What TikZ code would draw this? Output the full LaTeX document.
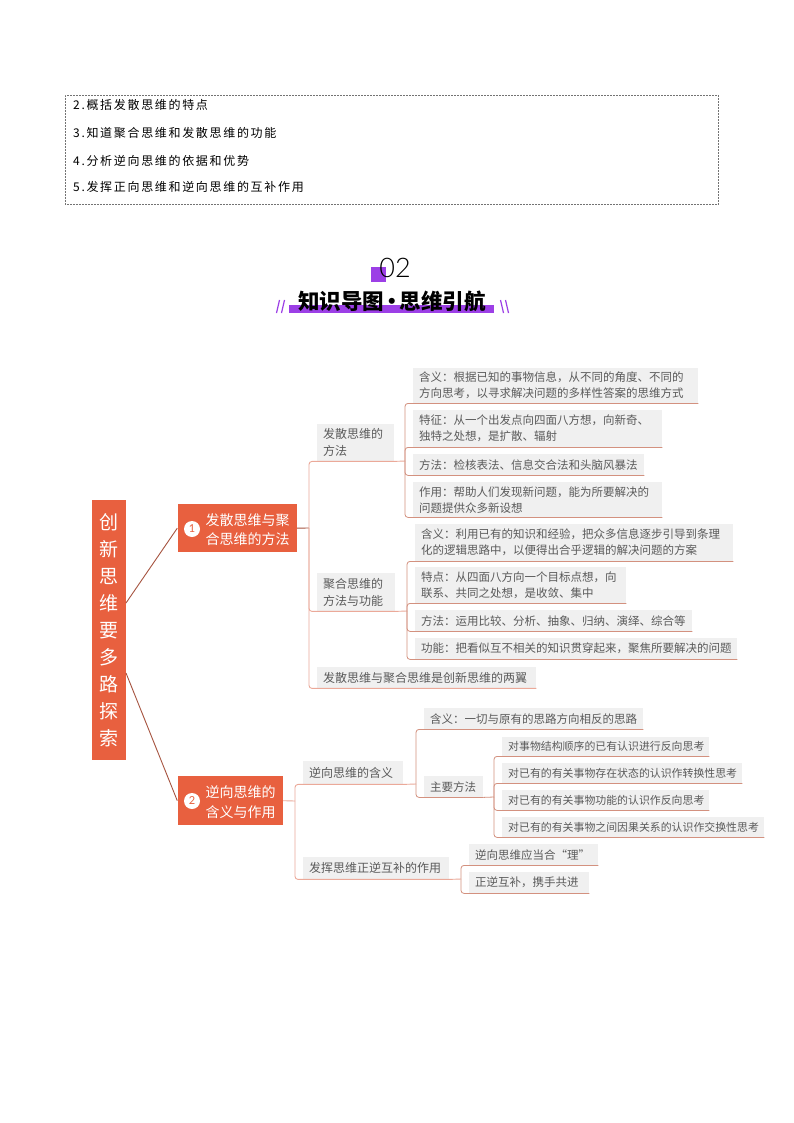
\documentclass[tikz,border=0pt]{standalone}
\usepackage{fontspec}
\setmainfont{Noto Sans CJK SC}
\newfontfamily\topfont[LetterSpace=14]{Noto Sans CJK SC}
\newfontfamily\numfont{Lato}
\newfontfamily\thinnum{Lato Light}
\usetikzlibrary{calc}
\definecolor{orangebox}{HTML}{E8603F}
\definecolor{leafgray}{HTML}{F0F0F0}
\definecolor{leaftext}{HTML}{5A5A5A}
\definecolor{linkdark}{HTML}{A65440}
\definecolor{linkmid}{HTML}{D3917F}
\definecolor{linklight}{HTML}{EBA999}
\definecolor{purplemark}{HTML}{9C3FE6}
\tikzset{
  x=1pt,y=-1pt,
  leaf/.code 2 args={\pgfmathsetmacro\tw{#1-12}\tikzset{rectangle,fill=leafgray,text=leaftext,
    anchor=north west,inner xsep=6pt,inner ysep=0pt,minimum width=#1pt,minimum height=#2pt,
    text width=\tw pt,align=left}},
  leafa/.style={font=\fontsize{11.5}{16}\selectfont},
  leafb/.style={font=\fontsize{12}{17}\selectfont},
  leafc/.style={font=\fontsize{10.9}{15}\selectfont},
  orangenode/.code 2 args={\tikzset{rectangle,fill=orangebox,text=white,anchor=north west,inner sep=0pt,
    minimum width=#1pt,minimum height=#2pt}},
  numdot/.style={circle,fill=white,text=orangebox,inner sep=0pt,minimum size=16pt,font=\numfont\fontsize{11}{11}\selectfont},
  toptext/.style={anchor=west,inner sep=0pt,text=black,font=\topfont\fontsize{12}{12}\selectfont},
  rootlink/.style={draw=linkdark,line width=0.9pt},
  trunklink/.style={draw=linklight,line width=0.9pt,rounded corners=3pt},
  branchlink/.style={draw=linkmid,line width=0.8pt,rounded corners=3pt},
}
\begin{document}
\begin{tikzpicture}
\useasboundingbox[fill=white] (0,0) rectangle (794,1123);

% top dotted frame
\node[draw=black!55,densely dotted,line width=0.5pt,anchor=north west,inner sep=0pt,minimum width=653pt,minimum height=109pt] (frame) at (65,95) {};
\node[toptext] (t2) at (73,104.5) {2.概括发散思维的特点};
\node[toptext] (t3) at (73,132.5) {3.知道聚合思维和发散思维的功能};
\node[toptext] (t4) at (73,161) {4.分析逆向思维的依据和优势};
\node[toptext] (t5) at (73,186.5) {5.发挥正向思维和逆向思维的互补作用};

% heading
\fill[purplemark] (371,267) rectangle (386,282);
\node[inner sep=0pt,text=black,font=\thinnum\fontsize{27}{27}\selectfont] (num) at (395,268) {02};
\fill[purplemark] (289,305) rectangle (494,313);
\node[inner sep=0pt,text=black,font=\bfseries\fontsize{21.5}{21.5}\selectfont] (title) at (392,301) {知识导图\kern-3pt•\kern-3pt思维引航};
\draw[purplemark,line width=1.2pt] (279.5,300) -- (276.5,313) (284.5,300) -- (281.5,313);
\draw[purplemark,line width=1.2pt] (500.5,300) -- (503.5,313) (505.5,300) -- (508.5,313);

% root and main boxes
\node[orangenode={34}{260},align=center,font=\fontsize{19}{26.9}\selectfont] (root) at (92,500)
  {创\\新\\思\\维\\要\\多\\路\\探\\索};
\node[orangenode={119.5}{48.5}] (m1) at (177.3,503.7) {};
\node[anchor=west,inner sep=0pt,align=left,text=white,font=\fontsize{14}{19}\selectfont] (m1t) at (205.5,529.5) {发散思维与聚\\合思维的方法};
\node[numdot] (n1) at (192,529) {1};
\node[orangenode={105.4}{49}] (m2) at (177.3,776) {};
\node[anchor=west,inner sep=0pt,align=left,text=white,font=\fontsize{14}{20}\selectfont] (m2t) at (205.5,802) {逆向思维的\\含义与作用};
\node[numdot] (n2) at (192,801) {2};

% first branch
\node[leaf={77}{37},leafb] (p1) at (317,424) {发散思维的\\方法};
\node[leaf={285}{35},leafa] (a1) at (413,368) {含义：根据已知的事物信息，从不同的角度、不同的\\方向思考，以寻求解决问题的多样性答案的思维方式};
\node[leaf={249}{37},leafa] (a2) at (413,410) {特征：从一个出发点向四面八方想，向新奇、\\独特之处想，是扩散、辐射};
\node[leaf={231}{21},leafa] (a3) at (413,454) {方法：检核表法、信息交合法和头脑风暴法};
\node[leaf={249}{35},leafa] (a4) at (413,482) {作用：帮助人们发现新问题，能为所要解决的\\问题提供众多新设想};

\node[leaf={78}{38},leafb] (p2) at (317,573) {聚合思维的\\方法与功能};
\node[leaf={318}{37},leafa] (b1) at (415,524) {含义：利用已有的知识和经验，把众多信息逐步引导到条理\\化的逻辑思路中，以便得出合乎逻辑的解决问题的方案};
\node[leaf={211}{36},leafa] (b2) at (415,567) {特点：从四面八方向一个目标点想，向\\联系、共同之处想，是收敛、集中};
\node[leaf={277}{21},leafa] (b3) at (415,610) {方法：运用比较、分析、抽象、归纳、演绎、综合等};
\node[leaf={322}{21},leafa] (b4) at (415,638) {功能：把看似互不相关的知识贯穿起来，聚焦所要解决的问题};
\node[leaf={219}{21},leafb] (p3) at (317,667) {发散思维与聚合思维是创新思维的两翼};

% second branch
\node[leaf={100}{23},leafb] (c1) at (303,761) {逆向思维的含义};
\node[leaf={146}{22},leafb] (c2) at (303,857) {发挥思维正逆互补的作用};
\node[leaf={219}{21},leafa] (d1) at (424,708) {含义：一切与原有的思路方向相反的思路};
\node[leaf={59}{21},leafa] (d2) at (424,776) {主要方法};
\node[leaf={207}{19},leafc] (e1) at (502,737) {对事物结构顺序的已有认识进行反向思考};
\node[leaf={240}{20},leafc] (e2) at (502,763) {对已有的有关事物存在状态的认识作转换性思考};
\node[leaf={207}{20},leafc] (e3) at (502,790) {对已有的有关事物功能的认识作反向思考};
\node[leaf={262}{20},leafc] (e4) at (502,817) {对已有的有关事物之间因果关系的认识作交换性思考};
\node[leaf={129}{21},leafa] (f1) at (469,844) {逆向思维应当合“理”};
\node[leaf={120}{21},leafa] (f2) at (469,872) {正逆互补，携手共进};

% junctions
\coordinate (r1) at (126,603);
\coordinate (r2) at (126,673);
\coordinate (t1) at (309,528);
\coordinate (t2j) at (295,801);
\coordinate (ja) at (405,461);
\coordinate (jb) at (407,611);
\coordinate (jd) at (416,784);
\coordinate (je) at (494,797);
\coordinate (jf) at (461,879);

% connectors
\draw[rootlink] (r1) -- (m1.west);
\draw[rootlink] (r2) -- (m2.west);
\draw[rootlink] (m1.east) -- (t1);
\draw[draw=linklight,line width=0.9pt] (m2.east) -- (t2j);
\draw[trunklink] (t1) |- (p1.south east) -- (ja);
\draw[trunklink] (t1) |- (p2.south east) -- (jb);
\draw[trunklink] (t1) |- (p3.south east);
\draw[trunklink] (t2j) |- (c1.south east) -- (jd);
\draw[trunklink] (t2j) |- (c2.south east) -- (jf);
\foreach \c in {a1,a2,a3,a4} \draw[branchlink] (ja) |- (\c.south east);
\foreach \c in {b1,b2,b3,b4} \draw[branchlink] (jb) |- (\c.south east);
\foreach \c in {d1,d2} \draw[branchlink] (jd) |- (\c.south east);
\draw[branchlink] (d2.south east) -- (je);
\foreach \c in {e1,e2,e3,e4} \draw[branchlink] (je) |- (\c.south east);
\foreach \c in {f1,f2} \draw[branchlink] (jf) |- (\c.south east);
\end{tikzpicture}
\end{document}
